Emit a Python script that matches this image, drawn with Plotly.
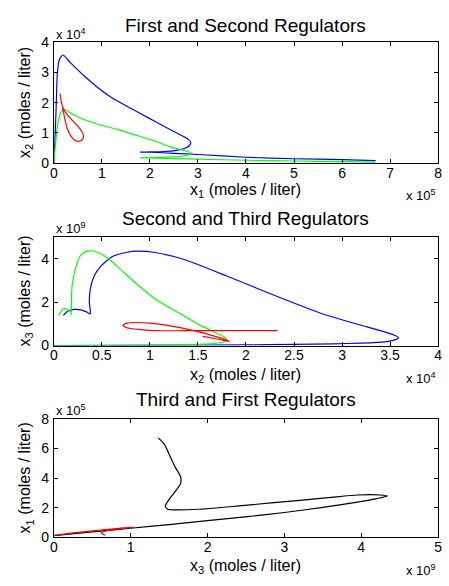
import plotly.graph_objects as go

W, H = 449, 586
FONT = "Liberation Sans, Arial, sans-serif"

# ---- Panel 1: x1 (x 1e5) against x2 (x 1e4) ----
p1_blue_x1 = [6.7, 6.0, 5.0, 4.0, 3.0, 2.5, 2.0, 1.8, 2.0, 2.3, 2.55, 2.72, 2.82, 2.85, 2.8, 2.7, 2.55, 2.35, 2.1,
              1.8, 1.5, 1.2, 0.9, 0.63, 0.35, 0.19, 0.12, 0.075, 0.05, 0.03, 0.0]
p1_blue_x2 = [0.08, 0.11, 0.14, 0.19, 0.28, 0.32, 0.355, 0.36, 0.365, 0.38, 0.42, 0.48, 0.57, 0.68, 0.78, 0.88, 1.0,
              1.17, 1.38, 1.64, 1.9, 2.17, 2.52, 2.89, 3.32, 3.58, 3.45, 3.0, 1.9, 1.0, 0.0]
p1_green_x1 = [6.7, 6.0, 5.0, 4.0, 3.0, 2.5, 2.0, 1.8, 2.1, 2.45, 2.7, 2.82, 2.85, 2.78, 2.6, 2.4, 2.13, 1.65, 1.31,
               0.97, 0.63, 0.35, 0.22, 0.16, 0.09, 0.04, 0.0]
p1_green_x2 = [0.03, 0.045, 0.065, 0.09, 0.125, 0.145, 0.165, 0.17, 0.18, 0.2, 0.23, 0.27, 0.33, 0.39, 0.46, 0.55, 0.71,
               0.95, 1.12, 1.26, 1.44, 1.65, 1.78, 1.70, 1.37, 0.7, 0.0]
p1_red_x1 = [0.13, 0.16, 0.2, 0.28, 0.38, 0.5, 0.58, 0.62, 0.6, 0.53, 0.45, 0.36, 0.28, 0.23, 0.2, 0.18]
p1_red_x2 = [2.3, 2.0, 1.8, 1.6, 1.42, 1.22, 1.05, 0.9, 0.78, 0.72, 0.74, 0.88, 1.15, 1.45, 1.7, 1.82]

# ---- Panel 2: x2 (x 1e4) against x3 (x 1e9) ----
p2_blue_x2 = [0.10, 0.14, 0.21, 0.28, 0.34, 0.38, 0.37, 0.38, 0.42, 0.49, 0.61, 0.75, 0.88, 1.05, 1.35, 1.8, 2.3, 2.8,
              3.25, 3.45, 3.56, 3.59, 3.55, 3.45, 3.2, 2.9, 2.5, 2.0, 1.0, 0.0]
p2_blue_x3 = [1.39, 1.57, 1.66, 1.64, 1.55, 1.46, 2.0, 2.6, 3.2, 3.65, 4.1, 4.28, 4.34, 4.28, 3.97, 3.2, 2.3, 1.45,
              0.87, 0.62, 0.45, 0.36, 0.26, 0.17, 0.11, 0.08, 0.05, 0.03, 0.01, 0.0]
p2_green_x2 = [0.05, 0.10, 0.14, 0.18, 0.18, 0.184, 0.19, 0.23, 0.28, 0.34, 0.41, 0.49, 0.59, 0.72, 0.89, 1.06, 1.25,
               1.40, 1.55, 1.68, 1.76, 1.80, 1.77, 1.66, 1.2, 0.5, 0.0]
p2_green_x3 = [1.39, 1.69, 1.66, 1.53, 1.43, 1.98, 2.73, 3.62, 4.15, 4.33, 4.35, 4.22, 3.92, 3.40, 2.73, 2.13, 1.62,
               1.25, 0.88, 0.6, 0.42, 0.31, 0.17, 0.09, 0.03, 0.01, 0.0]
p2_red_x2 = [2.33, 2.0, 1.7, 1.45, 1.25, 1.05, 0.88, 0.76, 0.72, 0.76, 0.86, 1.0, 1.15, 1.34, 1.52, 1.68, 1.78, 1.83,
             1.80, 1.70, 1.55]
p2_red_x3 = [0.69, 0.69, 0.69, 0.69, 0.68, 0.69, 0.74, 0.82, 0.93, 1.02, 1.06, 1.03, 0.95, 0.80, 0.62, 0.42, 0.28, 0.19,
             0.21, 0.3, 0.42]

# ---- Panel 3: x3 (x 1e9) against x1 (x 1e5) ----
p3_black_x3 = [1.36, 1.44, 1.50, 1.58, 1.65, 1.65, 1.58, 1.50, 1.45, 1.48, 1.58, 1.88, 2.29, 2.52, 3.2, 3.61, 3.95,
               4.25, 4.34, 4.2, 3.95, 3.5, 3.0, 2.52, 2.0, 1.5, 1.0, 0.5, 0.0]
p3_black_x1 = [6.71, 6.27, 5.61, 4.74, 4.09, 3.65, 3.10, 2.56, 2.12, 1.90, 1.86, 1.90, 2.07, 2.18, 2.5, 2.70, 2.86,
               2.86, 2.79, 2.62, 2.38, 2.03, 1.68, 1.40, 1.13, 0.87, 0.62, 0.37, 0.12]
p3_red_x3 = [0.67, 0.62, 0.70, 0.85, 1.04, 0.85, 0.6, 0.35, 0.15, 0.0]
p3_red_x1 = [0.15, 0.30, 0.48, 0.60, 0.68, 0.62, 0.5, 0.36, 0.24, 0.13]

titles = ["First and Second Regulators", "Second and Third Regulators", "Third and First Regulators"]
x_titles = ["x<sub>1</sub> (moles / liter)", "x<sub>2</sub> (moles / liter)", "x<sub>3</sub> (moles / liter)"]
y_titles = ["x<sub>2</sub> (moles / liter)", "x<sub>3</sub> (moles / liter)", "x<sub>1</sub> (moles / liter)"]
x_exp = ["x 10<sup>5</sup>", "x 10<sup>4</sup>", "x 10<sup>9</sup>"]
y_exp = ["x 10<sup>4</sup>", "x 10<sup>9</sup>", "x 10<sup>5</sup>"]
x_ranges = [[0, 8], [0, 4], [0, 5]]
y_ranges = [[0, 4], [0, 5], [0, 8]]
x_dticks = [1, 0.5, 1]
y_dticks = [1, 2, 2]

BLUE, GREEN, RED, BLACK = "#0000ff", "#00ff00", "#ff0000", "#000000"

# Panel placement in pixels: (left, right, top, bottom)
boxes = [(50.7, 442, 35.3, 159.3), (50.7, 442, 235.3, 347), (50.7, 442, 422.3, 544.3)]
title_y = [18.5, 216, 403]
xtitle_y = [188, 378, 574]
xexp_y = [192, 380, 578]
yexp_y = [27, 226, 413]


def px(x):
    return x / W


def py(y):
    return 1 - y / H


fig = go.Figure()

series = [
    (1, p1_blue_x1, p1_blue_x2, BLUE),
    (1, p1_green_x1, p1_green_x2, GREEN),
    (1, p1_red_x1, p1_red_x2, RED),
    (2, p2_blue_x2, p2_blue_x3, BLUE),
    (2, p2_green_x2, p2_green_x3, GREEN),
    (2, p2_red_x2, p2_red_x3, RED),
    (3, p3_black_x3, p3_black_x1, BLACK),
    (3, p3_red_x3, p3_red_x1, RED),
]
for k, xs, ys, col in series:
    sfx = "" if k == 1 else str(k)
    fig.add_trace(go.Scatter(x=xs, y=ys, mode="lines", xaxis="x" + sfx, yaxis="y" + sfx,
                             line=dict(color=col, width=1.2, shape="spline", smoothing=0.6),
                             showlegend=False, hoverinfo="skip"))

annotations = []
for i in range(3):
    l, r, t, b = boxes[i]
    sfx = "" if i == 0 else str(i + 1)
    axis_common = dict(showline=True, linecolor="black", linewidth=1, mirror="ticks", ticks="inside",
                       ticklen=4, tickcolor="black", showgrid=False, zeroline=False,
                       tickfont=dict(family=FONT, size=14, color="black"))
    fig.layout["xaxis" + sfx] = dict(domain=[px(l), px(r)], range=x_ranges[i], dtick=x_dticks[i],
                                     tick0=0, anchor="y" + sfx, ticklabelstandoff=-3, **axis_common)
    fig.layout["yaxis" + sfx] = dict(domain=[py(b), py(t)], range=y_ranges[i], dtick=y_dticks[i],
                                     tick0=0, anchor="x" + sfx, ticklabelstandoff=1, **axis_common)
    cx = (l + r) / 2
    annotations += [
        dict(text=titles[i], x=px(cx), y=py(title_y[i]), font=dict(family=FONT, size=19, color="black")),
        dict(text=x_titles[i], x=px(cx), y=py(xtitle_y[i]), font=dict(family=FONT, size=16, color="black")),
        dict(text=y_titles[i], x=px(21.7), y=py((t + b) / 2), textangle=-90,
             font=dict(family=FONT, size=16, color="black")),
        dict(text=x_exp[i], x=px(425), y=py(xexp_y[i]), font=dict(family=FONT, size=13, color="black")),
        dict(text=y_exp[i], x=px(68), y=py(yexp_y[i]), font=dict(family=FONT, size=13, color="black")),
    ]

for a in annotations:
    a.update(xref="paper", yref="paper", xanchor="center", yanchor="middle", showarrow=False)

fig.update_layout(width=W, height=H, margin=dict(l=0, r=0, t=0, b=0), paper_bgcolor="white",
                  plot_bgcolor="white", annotations=annotations)

fig.write_html("out.html")
